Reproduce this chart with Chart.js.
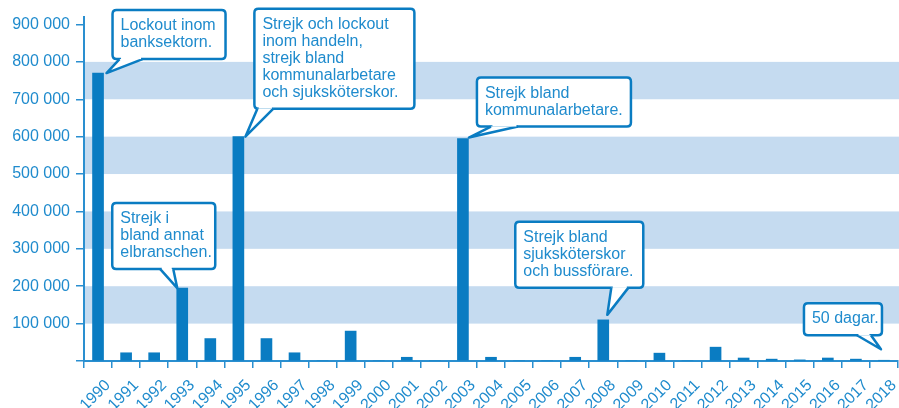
<!DOCTYPE html>
<html>
<head>
<meta charset="utf-8">
<script src="https://cdn.jsdelivr.net/npm/chart.js@4/dist/chart.umd.min.js"></script>
<style>
  body { margin: 0; background: #fff; }
</style>
</head>
<body>
<canvas id="strikeChart" width="899" height="408"></canvas>
<script>
const years = ['1990', '1991', '1992', '1993', '1994', '1995', '1996', '1997', '1998', '1999',
  '2000', '2001', '2002', '2003', '2004', '2005', '2006', '2007', '2008', '2009',
  '2010', '2011', '2012', '2013', '2014', '2015', '2016', '2017', '2018'];
const lostDays = [770000, 22000, 22000, 195000, 60000, 600000, 60000, 22000, 0, 80000,
  0, 10000, 0, 595000, 10000, 0, 0, 10000, 110000, 0,
  21000, 0, 37000, 8000, 5000, 3000, 8000, 5000, 2000];
const yTicks = [0, 100000, 200000, 300000, 400000, 500000, 600000, 700000, 800000, 900000];
const bandRanges = [[100000, 200000], [300000, 400000], [500000, 600000], [700000, 800000]];

// which bar each note points at, and its text
const noteYears = ['1990', '1995', '2003', '1993', '2008', '2018'];
const noteTexts = [
  ['Lockout inom', 'banksektorn.'],
  ['Strejk och lockout', 'inom handeln,', 'strejk bland', 'kommunalarbetare', 'och sjuksköterskor.'],
  ['Strejk bland', 'kommunalarbetare.'],
  ['Strejk i', 'bland annat', 'elbranschen.'],
  ['Strejk bland', 'sjuksköterskor', 'och bussförare.'],
  ['50 dagar.']
];

const blue = '#0a7cc2';
const axisBlue = '#2a8fd0';
const textBlue = '#1f8bcd';
const font = '"Liberation Sans", Arial, Helvetica, sans-serif';

// tip offset from bar center/top, box offset from tip, box width, pointer base on box bottom
const noteStyle = [
  { tdx: 8.5, tdy: 0, bx: 6, by: -63, w: 113, p1: 7, p2: 30 },
  { tdx: 7, tdy: 0, bx: 9, by: -128, w: 160, p1: 3, p2: 19 },
  { tdx: 6, tdy: -1, bx: 8, by: -60, w: 154, p1: 14, p2: 41 },
  { tdx: -5, tdy: 0, bx: -65, by: -85, w: 103, p1: 48, p2: 61 },
  { tdx: 4, tdy: -5, bx: -92, by: -93, w: 128, p1: 96, p2: 113 },
  { tdx: -3, tdy: -11, bx: -77, by: -46, w: 78, p1: 53, p2: 67 }
];

const bands = {
  id: 'bands',
  beforeDatasetsDraw(chart) {
    const { ctx, chartArea, scales } = chart;
    ctx.save();
    ctx.fillStyle = '#c5dbf0';
    bandRanges.forEach(([a, b]) => {
      const y1 = scales.y.getPixelForValue(b);
      const y2 = scales.y.getPixelForValue(a);
      ctx.fillRect(chartArea.left + 1, y1, chartArea.right - chartArea.left + 1, y2 - y1);
    });
    ctx.restore();
  }
};

function roundRect(ctx, x, y, w, h, r) {
  ctx.beginPath();
  ctx.moveTo(x + r, y);
  ctx.lineTo(x + w - r, y);
  ctx.quadraticCurveTo(x + w, y, x + w, y + r);
  ctx.lineTo(x + w, y + h - r);
  ctx.quadraticCurveTo(x + w, y + h, x + w - r, y + h);
  ctx.lineTo(x + r, y + h);
  ctx.quadraticCurveTo(x, y + h, x, y + h - r);
  ctx.lineTo(x, y + r);
  ctx.quadraticCurveTo(x, y, x + r, y);
  ctx.closePath();
}

const callouts = {
  id: 'callouts',
  afterDraw(chart) {
    const { ctx, scales } = chart;
    ctx.save();
    ctx.font = '16px ' + font;
    noteYears.forEach((yr, i) => {
      const idx = years.indexOf(yr);
      const s = noteStyle[i];
      const lines = noteTexts[i];
      const tx = scales.x.getPixelForValue(idx) + s.tdx;
      const ty = scales.y.getPixelForValue(lostDays[idx]) + s.tdy;
      const bxL = tx + s.bx;
      const byT = ty + s.by;
      const h = lines.length * 17 + 15;
      const bottom = byT + h;

      ctx.lineWidth = 2.5;
      ctx.strokeStyle = blue;
      ctx.fillStyle = '#fff';
      ctx.lineJoin = 'round';
      roundRect(ctx, bxL, byT, s.w, h, 4);
      ctx.fill();
      ctx.stroke();
      // pointer
      ctx.beginPath();
      ctx.moveTo(bxL + s.p1, bottom);
      ctx.lineTo(tx, ty);
      ctx.lineTo(bxL + s.p2, bottom);
      ctx.closePath();
      ctx.fill();
      ctx.beginPath();
      ctx.moveTo(bxL + s.p1, bottom);
      ctx.lineTo(tx, ty);
      ctx.lineTo(bxL + s.p2, bottom);
      ctx.stroke();
      ctx.fillRect(bxL + s.p1 + 1.5, bottom - 3, s.p2 - s.p1 - 3, 3);

      ctx.fillStyle = textBlue;
      ctx.textBaseline = 'alphabetic';
      lines.forEach((l, k) => ctx.fillText(l, bxL + 8, byT + 20 + k * 17));
    });
    ctx.restore();
  }
};

const chart = new Chart(document.getElementById('strikeChart'), {
  type: 'bar',
  data: {
    labels: years,
    datasets: [{
      data: lostDays,
      backgroundColor: blue,
      barThickness: 11
    }]
  },
  options: {
    responsive: false,
    devicePixelRatio: 1,
    animation: false,
    layout: { padding: { top: 17, right: 1, left: 0, bottom: 0 } },
    plugins: { legend: { display: false }, tooltip: { enabled: false } },
    scales: {
      x: {
        grid: { offset: true, drawOnChartArea: false, tickLength: 7, color: axisBlue, lineWidth: 1.5 },
        border: { color: axisBlue, width: 2 },
        ticks: {
          autoSkip: false, minRotation: 45, maxRotation: 45,
          color: textBlue, font: { family: font, size: 16 }, padding: 8, labelOffset: 10
        },
        afterFit(scale) {
          scale.height = 47;
          scale.paddingLeft = 0;
          scale.paddingRight = 0;
        }
      },
      y: {
        min: 0,
        max: 920000,
        grid: { drawOnChartArea: false, tickLength: 8, lineWidth: 1.5, color: axisBlue },
        border: { color: axisBlue, width: 2 },
        ticks: {
          autoSkip: false,
          color: textBlue,
          font: { family: font, size: 16 },
          padding: 6,
          callback: v => v === 0 ? '' : String(v).replace(/\B(?=(\d{3})+(?!\d))/g, ' ')
        },
        afterBuildTicks(scale) { scale.ticks = yTicks.map(v => ({ value: v })); },
        afterFit(scale) { scale.width = 84; }
      }
    }
  },
  plugins: [bands, callouts]
});
</script>
</body>
</html>
